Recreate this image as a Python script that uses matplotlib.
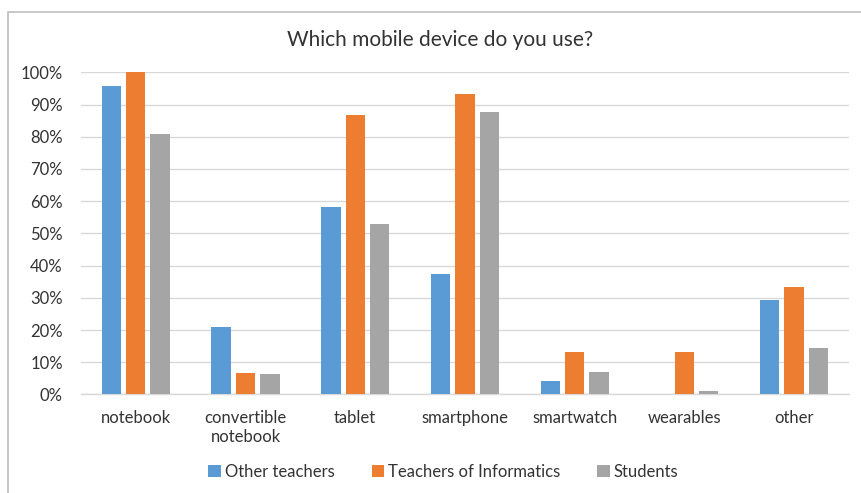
import numpy as np
import matplotlib.pyplot as plt
from matplotlib.patches import Rectangle

# data (share of respondents)
categories = ["notebook", "convertible\nnotebook", "tablet", "smartphone",
              "smartwatch", "wearables", "other"]
other_teachers = [0.958, 0.208, 0.583, 0.375, 0.042, 0.0, 0.292]
teachers_informatics = [1.0, 0.067, 0.867, 0.933, 0.133, 0.133, 0.333]
students = [0.81, 0.063, 0.528, 0.878, 0.071, 0.012, 0.144]
series_names = ["Other teachers", "Teachers of Informatics", "Students"]
colors = ["#5B9BD5", "#ED7D31", "#A5A5A5"]

plt.rcParams['font.family'] = ['Lato', 'DejaVu Sans']

fig = plt.figure(figsize=(8.61, 4.93), dpi=100)
ax = fig.add_axes([0.094, 0.1998, 0.892, 0.6535])

# chart border (left/top visible, rest cut off)
fig.patches.append(Rectangle((8 / 861, -0.1), 1.2, 1 - 12 / 493 + 0.1,
                             transform=fig.transFigure, fill=False,
                             edgecolor="#bfbfbf", linewidth=1.2))

x = np.arange(len(categories))
w = 0.176
step = 0.222
for i, (vals, name) in enumerate(zip([other_teachers, teachers_informatics, students], series_names)):
    ax.bar(x + (i - 1) * step, vals, width=w, color=colors[i], label=name, zorder=3)

ax.set_xlim(-0.5, len(categories) - 0.5)
ax.set_ylim(0, 1.0)
ax.set_yticks(np.arange(0, 1.01, 0.1))
ax.set_yticklabels(["%d%%" % round(v * 100) for v in np.arange(0, 1.01, 0.1)],
                   fontsize=12, color="#333333")
ax.set_xticks(x)
ax.set_xticklabels(categories, fontsize=12, color="#333333", linespacing=1.25)
ax.tick_params(axis="both", length=0)
ax.tick_params(axis="y", pad=13)
ax.tick_params(axis="x", pad=11)

ax.grid(axis="y", color="#d9d9d9", linewidth=1, zorder=0)
for s in ["top", "right", "left"]:
    ax.spines[s].set_visible(False)
ax.spines["bottom"].set_color("#d9d9d9")
ax.spines["bottom"].set_linewidth(1)

fig.text(0.511, 0.918, "Which mobile device do you use?", ha="center", va="center",
         fontsize=15, color="#333333")

fig.legend(loc="center", bbox_to_anchor=(0.515, 0.043), ncol=3, frameon=False,
           fontsize=12, handlelength=0.75, handleheight=0.75, handletextpad=0.25,
           columnspacing=2.2, labelcolor="#333333")

fig.savefig("out.png", dpi=100)
